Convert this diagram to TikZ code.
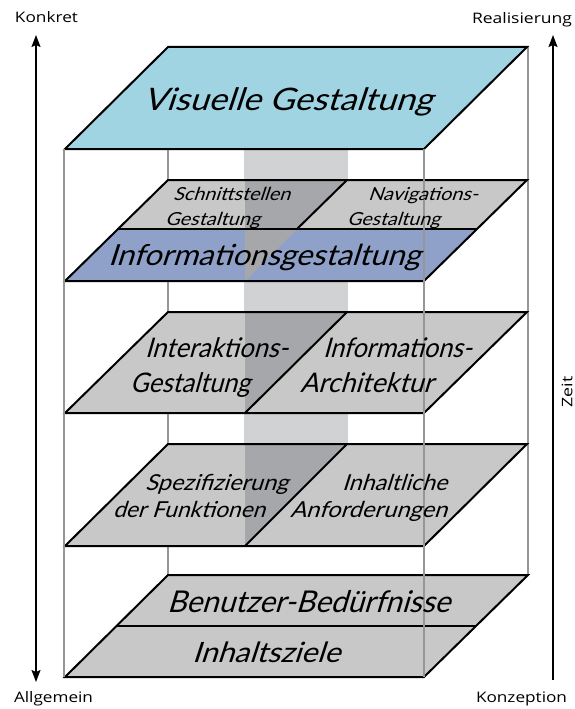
\documentclass[tikz,border=0pt]{standalone}
\usepackage{fontspec}
\usepackage{graphicx}
\usetikzlibrary{arrows.meta}
\newfontfamily\layfont[FakeSlant=0.3]{Lato}
\newfontfamily\axfont{Open Sans}
\definecolor{topblue}{RGB}{160,212,227}
\definecolor{infoblue}{RGB}{143,161,200}
\definecolor{laygray}{RGB}{200,200,200}
\definecolor{darkov}{RGB}{166,167,170}
\definecolor{bandgray}{RGB}{209,210,212}
\definecolor{edgegray}{RGB}{150,150,152}
\newlength\mylw
\newcommand\fitx[2]{\settowidth{\mylw}{#2}\pgfmathsetmacro\myratio{#1/\mylw}\scalebox{\myratio}[1]{#2}}
\begin{document}
\begin{tikzpicture}[x=1pt,y=-1pt,
  plane/.style={draw=black, line width=2pt, line join=miter},
  edgeline/.style={draw=edgegray, line width=1.5pt},
  lbl/.style={inner sep=0pt, anchor=base},
  ax/.style={inner sep=0pt, anchor=base, font=\axfont\fontsize{14.5}{14.5}\selectfont},
  arr/.style={line width=1.5pt, draw=black}]
\useasboundingbox (0,0) rectangle (575,709);
% background band
\fill[bandgray] (244,149) rectangle (348,444);
% back edges
\draw[edgeline] (168,149) -- (168,575);
\draw[edgeline] (528,47) -- (528,575);
% top plane
\filldraw[plane, fill=topblue] (168,47) -- (527,47) -- (424,149) -- (65,149) -- cycle;
% Schnittstellen / Navigation + Informationsgestaltung
\fill[laygray] (168,180) -- (527,180) -- (477,229) -- (117,229) -- cycle;
\fill[darkov] (245,180) -- (347,180) -- (297,229) -- (245,229) -- cycle;
\fill[infoblue] (117,229) -- (477,229) -- (424,281) -- (65,281) -- cycle;
\fill[darkov] (245,229) -- (297,229) -- (245,281) -- cycle;
\draw[plane] (168,180) -- (527,180) -- (424,281) -- (65,281) -- cycle;
\draw[plane] (117,229) -- (477,229);
\draw[plane] (347,180) -- (297,229);
% Interaktion / Informationsarchitektur
\fill[laygray] (168,312) -- (527,312) -- (424,413) -- (65,413) -- cycle;
\fill[darkov] (245,312) -- (347,312) -- (245,413) -- cycle;
\draw[plane] (168,312) -- (527,312) -- (424,413) -- (65,413) -- cycle;
\draw[plane] (347,312) -- (245,413);
% Spezifizierung / Inhaltliche Anforderungen
\fill[laygray] (168,444) -- (527,444) -- (424,546) -- (65,546) -- cycle;
\fill[darkov] (245,444) -- (347,444) -- (245,546) -- cycle;
\draw[plane] (168,444) -- (527,444) -- (424,546) -- (65,546) -- cycle;
\draw[plane] (347,444) -- (245,546);
% Benutzer / Inhaltsziele
\filldraw[plane, fill=laygray] (168,575) -- (528,575) -- (424,677) -- (65,677) -- cycle;
\draw[plane] (117,626) -- (476,626);
% front edges
\draw[edgeline] (64,149) -- (64,677);
\draw[edgeline] (424,149) -- (424,677);
% labels
\node[lbl, font=\layfont\fontsize{31}{31}\selectfont] (vis) at (287.5,110) {\fitx{289}{Visuelle Gestaltung}};
\node[lbl, font=\layfont\fontsize{18}{18}\selectfont] (sch1) at (231.5,200) {\fitx{117}{Schnittstellen}};
\node[lbl, font=\layfont\fontsize{18}{18}\selectfont] (sch2) at (212.5,225) {\fitx{95}{Gestaltung}};
\node[lbl, font=\layfont\fontsize{18}{18}\selectfont] (nav1) at (423,200) {\fitx{110}{Navigations-}};
\node[lbl, font=\layfont\fontsize{18}{18}\selectfont] (nav2) at (393.5,225) {\fitx{93}{Gestaltung}};
\node[lbl, font=\layfont\fontsize{29}{29}\selectfont] (info) at (264,265) {\fitx{312}{Informationsgestaltung}};
\node[lbl, font=\layfont\fontsize{27}{27}\selectfont] (int1) at (216.5,357) {\fitx{143}{Interaktions-}};
\node[lbl, font=\layfont\fontsize{27}{27}\selectfont] (int2) at (190,392) {\fitx{120}{Gestaltung}};
\node[lbl, font=\layfont\fontsize{27}{27}\selectfont] (ia1) at (397.5,357) {\fitx{149}{Informations-}};
\node[lbl, font=\layfont\fontsize{27}{27}\selectfont] (ia2) at (366.5,392) {\fitx{133}{Architektur}};
\node[lbl, font=\layfont\fontsize{22}{22}\selectfont] (sp1) at (216.5,490) {\fitx{143}{Spezifizierung}};
\node[lbl, font=\layfont\fontsize{22}{22}\selectfont] (sp2) at (189,517) {\fitx{152}{der Funktionen}};
\node[lbl, font=\layfont\fontsize{22}{22}\selectfont] (ia3) at (394.5,490) {\fitx{105}{Inhaltliche}};
\node[lbl, font=\layfont\fontsize{22}{22}\selectfont] (ia4) at (368.5,517) {\fitx{157}{Anforderungen}};
\node[lbl, font=\layfont\fontsize{30}{30}\selectfont] (ben) at (308.5,612) {\fitx{283}{Benutzer-Bedürfnisse}};
\node[lbl, font=\layfont\fontsize{28}{28}\selectfont] (inh) at (266,662) {\fitx{148}{Inhaltsziele}};
% axes
\coordinate (lt) at (36,35);
\coordinate (lb) at (36,682);
\coordinate (rt) at (553,35);
\coordinate (rb) at (553,680);
\draw[arr, {Stealth[length=12pt,width=9pt,inset=2pt]}-{Stealth[length=12pt,width=9pt,inset=2pt]}] (lt) -- (lb);
\draw[arr, -{Stealth[length=12pt,width=9pt,inset=2pt]}] (rb) -- (rt);
\node[ax] (konkret) at (46.5,23) {\fitx{63}{Konkret}};
\node[ax] (real) at (522,24) {\fitx{100}{Realisierung}};
\node[ax] (allg) at (53.5,702) {\fitx{79}{Allgemein}};
\node[ax] (konz) at (521.5,702) {\fitx{91}{Konzeption}};
\node[inner sep=0pt, rotate=90, font=\axfont\fontsize{14.5}{14.5}\selectfont] (zeit) at (567,392) {\fitx{31}{Zeit}};
\end{tikzpicture}
\end{document}
